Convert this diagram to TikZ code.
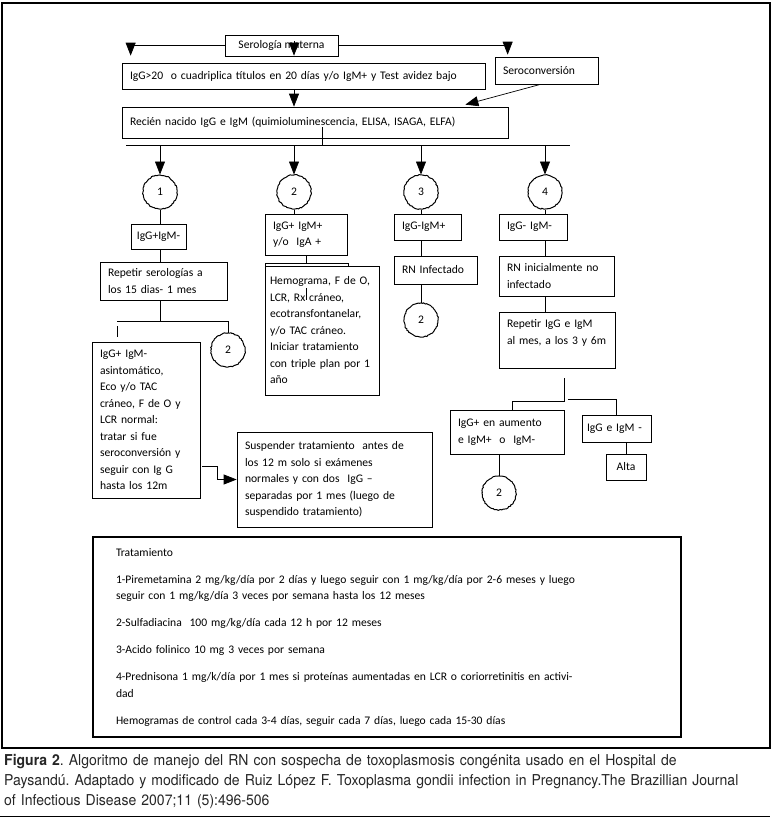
\documentclass[tikz,border=0pt]{standalone}
\usepackage{fontspec}
\setmainfont{Carlito}
\newfontfamily\capfont[FakeStretch=0.935]{TeX Gyre Heros}
\usetikzlibrary{arrows.meta, decorations.pathmorphing}
\frenchspacing

\begin{document}
\begin{tikzpicture}[
    x=1pt, y=-1pt,
    box/.style={rectangle, draw, line width=0.7pt, fill=white, align=left, inner xsep=8pt, inner ysep=2pt, font=\fontsize{11.6}{16.5}\selectfont},
    num/.style={circle, draw, line width=1pt, minimum size=34pt, inner sep=0pt, font=\fontsize{11.6}{13}\selectfont, decoration={random steps, segment length=1.5pt, amplitude=0.5pt}, decorate},
    link/.style={line width=0.7pt},
    arrow/.style={-{Triangle[width=10pt,length=13pt]}, line width=0.7pt}
]
    \useasboundingbox (0,0) rectangle (775,823);

    % maternal serology
    \node[box, align=center, inner xsep=0pt, minimum width=113pt, minimum height=21pt] (materna) at (281.5,45.5) {Serología materna};
    \node[box, text width=87pt, minimum height=27pt] (seroc) at (546.5,70.5) {Seroconversión};
    \node[box, text width=347pt, minimum height=26pt] (igg) at (303.5,76) {IgG>20\ \ o cuadriplica títulos en 20 días y/o IgM+ y Test avidez bajo};
    \node[box, text width=370pt, minimum height=31pt] (recien) at (315,122.5) {Recién nacido IgG e IgM (quimioluminescencia, ELISA, ISAGA, ELFA)};

    % the four groups
    \node[num] (c1) at (160,192) {1};
    \node[num] (c2) at (294,192) {2};
    \node[num] (c3) at (421,192) {3};
    \node[num] (c4) at (545,192) {4};

    % group 1
    \node[box, align=center, inner xsep=0pt, minimum width=55pt, minimum height=25pt] (b1) at (158.5,236.5) {IgG+IgM-};
    \node[box, text width=111pt, minimum height=38pt] (rep1) at (163.5,281) {Repetir serologías a\\los 15 dias- 1 mes};
    \node[num] (c1b) at (228,350) {2};
    \node[box, text width=92pt, minimum height=156pt] (big1) at (146,420) {IgG+ IgM-\\asintomático,\\Eco y/o TAC\\cráneo, F de O y\\LCR normal:\\tratar si fue\\seroconversión y\\seguir con Ig G\\hasta los 12m};
    \node[box, text width=179pt, minimum height=95pt] (susp) at (334.5,479.5) {Suspender tratamiento\ \ antes de\\los 12 m solo si exámenes\\normales y con dos\ \ IgG –\\separadas por 1 mes (luego de\\suspendido tratamiento)};

    % group 2
    \node[box, text width=66pt, minimum height=41pt] (b2) at (306,234.5) {IgG+ IgM+\\y/o\ \ IgA +};
    \node[box, minimum width=83pt, minimum height=12pt, inner sep=0pt] (hemback) at (306.5,269) {};
    \node[box, inner xsep=5pt, text width=104pt, minimum height=129pt] (hem) at (322,330.5) {Hemograma, F de O,\\LCR, Rx cráneo,\\ecotransfontanelar,\\y/o TAC cráneo.\\Iniciar tratamiento\\con triple plan por 1\\año};

    % group 3
    \node[box, text width=51pt, minimum height=26pt] (b3) at (427.5,227) {IgG-IgM+};
    \node[box, text width=67pt, minimum height=28pt] (rn3) at (435.5,270) {RN Infectado};
    \node[num] (c3b) at (421,320) {2};

    % group 4
    \node[box, text width=52pt, minimum height=26pt] (b4) at (533,227) {IgG- IgM-};
    \node[box, text width=99pt, minimum height=40pt] (rn4) at (556.5,276) {RN inicialmente no\\infectado};
    \node[box, text width=100pt, minimum height=56pt] (rep4) at (557,340) {Repetir IgG e IgM\\al mes, a los 3 y 6m\\\mbox{}};
    \node[box, text width=98pt, minimum height=44pt] (inc4) at (507,432) {IgG+ en aumento\\e IgM+\ \ o\ \ IgM-};
    \node[box, inner xsep=5pt, text width=59pt, minimum height=27pt] (neg4) at (616.5,428.5) {IgG e IgM -};
    \node[box, align=center, inner xsep=0pt, minimum width=40pt, minimum height=26pt] (alta) at (626,467) {Alta};
    \node[num] (c4b) at (499,493) {2};

    % treatment
    \node[box, line width=1.6pt, inner xsep=23pt, text width=542pt, minimum height=200pt] (treat) at (387,637) {Tratamiento\\[10.5pt]
        1-Piremetamina 2 mg/kg/día por 2 días y luego seguir con 1 mg/kg/día por 2-6 meses y luego\\
        seguir con 1 mg/kg/día 3 veces por semana hasta los 12 meses\\[10.5pt]
        2-Sulfadiacina\ \ 100 mg/kg/día cada 12 h por 12 meses\\[10.5pt]
        3-Acido folinico 10 mg 3 veces por semana\\[10.5pt]
        4-Prednisona 1 mg/k/día por 1 mes si proteínas aumentadas en LCR o coriorretinitis en activi-\\
        dad\\[10.5pt]
        Hemogramas de control cada 3-4 días, seguir cada 7 días, luego cada 15-30 días};

    % frame and caption
    \draw[line width=1.2pt] (2,3) rectangle (770,748);
    \node[anchor=north west, inner sep=0pt, text width=768pt, align=left, text=black!85, font=\capfont\fontsize{15}{20}\selectfont] (caption) at (4,754) {\textbf{Figura 2}. Algoritmo de manejo del RN con sospecha de toxoplasmosis congénita usado en el Hospital de\\Paysandú. Adaptado y modificado de Ruiz López F. Toxoplasma gondii infection in Pregnancy.The Brazillian Journal\\of Infectious Disease 2007;11 (5):496-506};
    \draw[line width=1pt] (0,816) -- (770,816);

    \coordinate (mtap) at (294,41);
    \coordinate (rtap) at (322,127);
    \coordinate (busw) at (126,145);
    \coordinate (buse) at (570,145);
    \coordinate (f1l) at (117,321);
    \coordinate (f1r) at (228,321);
    \coordinate (elb) at (202,466);
    \coordinate (f4) at (564,401);

    \draw[arrow, shorten >=7pt] (materna.west) -| ([xshift=9pt]igg.north west);
    \draw[arrow, shorten >=2pt] (materna.east) -| ([xshift=13pt]seroc.north west);
    \draw[arrow, shorten >=7pt] (mtap) -- (mtap |- igg.north);
    \draw[arrow] (igg.south -| mtap) -- (recien.north -| mtap);
    \draw[arrow] ([xshift=-6pt]seroc.south) -- ([xshift=-43pt,yshift=2pt]recien.north east);
    \draw[link] (rtap) -- (rtap |- busw);
    \draw[link] (busw) -- (buse);
    \draw[arrow] (c1 |- busw) -- (c1.north);
    \draw[arrow] (c2 |- busw) -- (c2.north);
    \draw[arrow] (c3 |- busw) -- (c3.north);
    \draw[arrow] (c4 |- busw) -- (c4.north);

    \draw[link] (c1) -- (c1 |- b1.north);
    \draw[link] (b1.south -| c1) -- (rep1.north -| c1);
    \draw[link] (rep1.south -| c1) -- (c1 |- f1l);
    \draw[link] (f1l) -- (f1r) -- (f1r |- c1b.north);
    \draw[link] ([yshift=-5pt]f1l) -- ([yshift=-16pt]f1l);
    \draw[arrow] (elb) -- ++(15,0) |- (susp.west);

    \draw[link] (c2) -- (c2 |- b2.north);
    \draw[link] (b2.south) -- (b2.south |- hemback.north);
    \draw[link] (b2.south |- 0,288) -- (b2.south |- 0,300);

    \draw[link] (c3) -- (c3 |- b3.north);
    \draw[link] (b3.south -| c3) -- (rn3.north -| c3);
    \draw[link] (rn3.south -| c3b) -- (c3b);

    \draw[link] (c4) -- (c4 |- b4.north);
    \draw[link] (b4.south -| c4) -- (rn4.north -| c4);
    \draw[link] (rn4.south -| c4) -- (rep4.north -| c4);
    \draw[link] (f4 |- 0,378) -- (f4) -| ([xshift=5pt]inc4.north);
    \draw[link] ([xshift=4pt,yshift=2pt]f4) -| (neg4.north);
    \draw[link] (neg4.south -| alta) -- (alta);
    \draw[link] (inc4.south -| c4b) -- (c4b);
\end{tikzpicture}
\end{document}
